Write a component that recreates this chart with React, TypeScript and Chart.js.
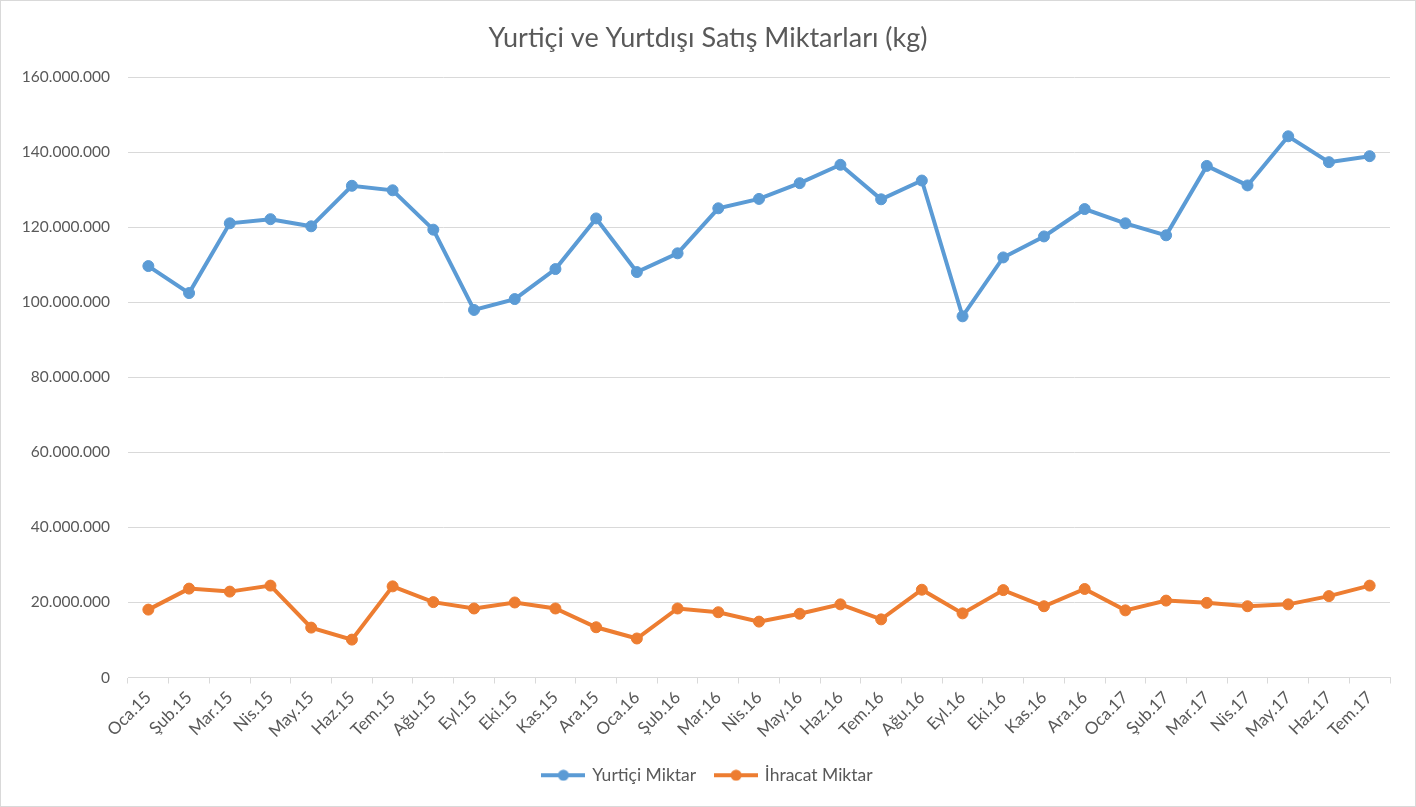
import React, { useEffect, useRef } from 'react';
import Chart from 'chart.js/auto';

// month labels, Turkish short names
const labels = [
  'Oca.15', 'Şub.15', 'Mar.15', 'Nis.15', 'May.15', 'Haz.15', 'Tem.15', 'Ağu.15',
  'Eyl.15', 'Eki.15', 'Kas.15', 'Ara.15', 'Oca.16', 'Şub.16', 'Mar.16', 'Nis.16',
  'May.16', 'Haz.16', 'Tem.16', 'Ağu.16', 'Eyl.16', 'Eki.16', 'Kas.16', 'Ara.16',
  'Oca.17', 'Şub.17', 'Mar.17', 'Nis.17', 'May.17', 'Haz.17', 'Tem.17',
];

const yurticiMiktar = [
  109700000, 102500000, 121100000, 122200000, 120300000, 131100000, 129900000, 119400000,
  98000000, 100900000, 108900000, 122400000, 108100000, 113100000, 125100000, 127600000,
  131800000, 136700000, 127500000, 132500000, 96300000, 112000000, 117600000, 124900000,
  121100000, 117900000, 136400000, 131200000, 144300000, 137400000, 139000000,
];

const ihracatMiktar = [
  18100000, 23700000, 22900000, 24500000, 13300000, 10100000, 24300000, 20100000,
  18400000, 20000000, 18400000, 13400000, 10400000, 18400000, 17400000, 14900000,
  17000000, 19500000, 15500000, 23400000, 17100000, 23300000, 19000000, 23600000,
  17900000, 20500000, 19900000, 19000000, 19500000, 21700000, 24500000,
];

const BLUE = '#5B9BD5';
const ORANGE = '#ED7D31';
const TEXT = '#595959';
const GRID = '#D9D9D9';
const FONT = 'Lato, "Noto Sans", sans-serif';

// legend marker: line with a dot in the middle, like Excel
const makeMarker = (color: string) => {
  const c = document.createElement('canvas');
  c.width = 44;
  c.height = 12;
  const g = c.getContext('2d')!;
  g.strokeStyle = color;
  g.lineWidth = 4;
  g.beginPath();
  g.moveTo(0, 6);
  g.lineTo(44, 6);
  g.stroke();
  g.fillStyle = color;
  g.beginPath();
  g.arc(22, 6, 5.5, 0, Math.PI * 2);
  g.fill();
  return c;
};

const formatTick = (v: number) => String(v).replace(/\B(?=(\d{3})+(?!\d))/g, '.');

const App: React.FC = () => {
  const chartRef = useRef<HTMLCanvasElement>(null);

  useEffect(() => {
    if (!chartRef.current) return;
    const ctx = chartRef.current.getContext('2d');
    if (!ctx) return;

    const chart = new Chart(ctx, {
      type: 'line',
      data: {
        labels: labels,
        datasets: [
          {
            label: 'Yurtiçi Miktar',
            data: yurticiMiktar,
            borderColor: BLUE,
            backgroundColor: BLUE,
            borderWidth: 4,
            pointRadius: 5.5,
            pointBorderWidth: 1,
            pointStyle: 'circle',
            tension: 0,
          },
          {
            label: 'İhracat Miktar',
            data: ihracatMiktar,
            borderColor: ORANGE,
            backgroundColor: ORANGE,
            borderWidth: 4,
            pointRadius: 5.5,
            pointBorderWidth: 1,
            pointStyle: 'circle',
            tension: 0,
          },
        ],
      },
      options: {
        animation: false,
        responsive: true,
        maintainAspectRatio: false,
        layout: { padding: { top: 0, left: 0, right: 0, bottom: 12 } },
        plugins: {
          title: {
            display: true,
            text: 'Yurtiçi ve Yurtdışı Satış Miktarları (kg)',
            color: TEXT,
            font: { family: FONT, size: 27, weight: 'normal' },
            padding: { top: 21, bottom: 23 },
          },
          legend: {
            position: 'bottom',
            labels: {
              usePointStyle: true,
              pointStyleWidth: 40,
              color: TEXT,
              padding: 20,
              font: { family: FONT, size: 17.5 },
              generateLabels: (c) =>
                c.data.datasets.map((ds, i) => ({
                  text: ds.label as string,
                  fillStyle: ds.borderColor as string,
                  strokeStyle: ds.borderColor as string,
                  lineWidth: 0,
                  pointStyle: makeMarker(ds.borderColor as string),
                  fontColor: TEXT,
                  hidden: false,
                  datasetIndex: i,
                })),
            },
          },
          tooltip: { enabled: false },
        },
        scales: {
          x: {
            offset: true,
            afterFit: (s) => {
              s.height = 69;
            },
            grid: {
              offset: true,
              drawOnChartArea: false,
              drawTicks: true,
              tickLength: 6,
              color: GRID,
            },
            border: { color: GRID, width: 1 },
            ticks: {
              autoSkip: false,
              maxRotation: 45,
              minRotation: 45,
              padding: 4,
              color: TEXT,
              font: { family: FONT, size: 17 },
            },
          },
          y: {
            min: 0,
            max: 160000000,
            afterFit: (s) => {
              s.width = 127;
            },
            grid: { color: GRID, drawTicks: false },
            border: { display: false },
            ticks: {
              stepSize: 20000000,
              padding: 18,
              color: TEXT,
              font: { family: FONT, size: 15.5 },
              callback: (v) => formatTick(Number(v)),
            },
          },
          // empty right-hand spacer so the plot ends where the reference does
          spacer: {
            type: 'linear',
            position: 'right',
            min: 0,
            max: 1,
            afterFit: (s) => {
              s.width = 25;
            },
            grid: { display: false },
            border: { display: false },
            ticks: { display: false },
          },
        },
      },
    });

    return () => {
      chart.destroy();
    };
  }, []);

  return (
    <div
      style={{
        position: 'absolute',
        left: 0,
        top: 0,
        width: 1416,
        height: 807,
        boxSizing: 'border-box',
        border: '1px solid #D9D9D9',
        background: '#fff',
      }}
    >
      <canvas ref={chartRef} />
    </div>
  );
};

export default App;
